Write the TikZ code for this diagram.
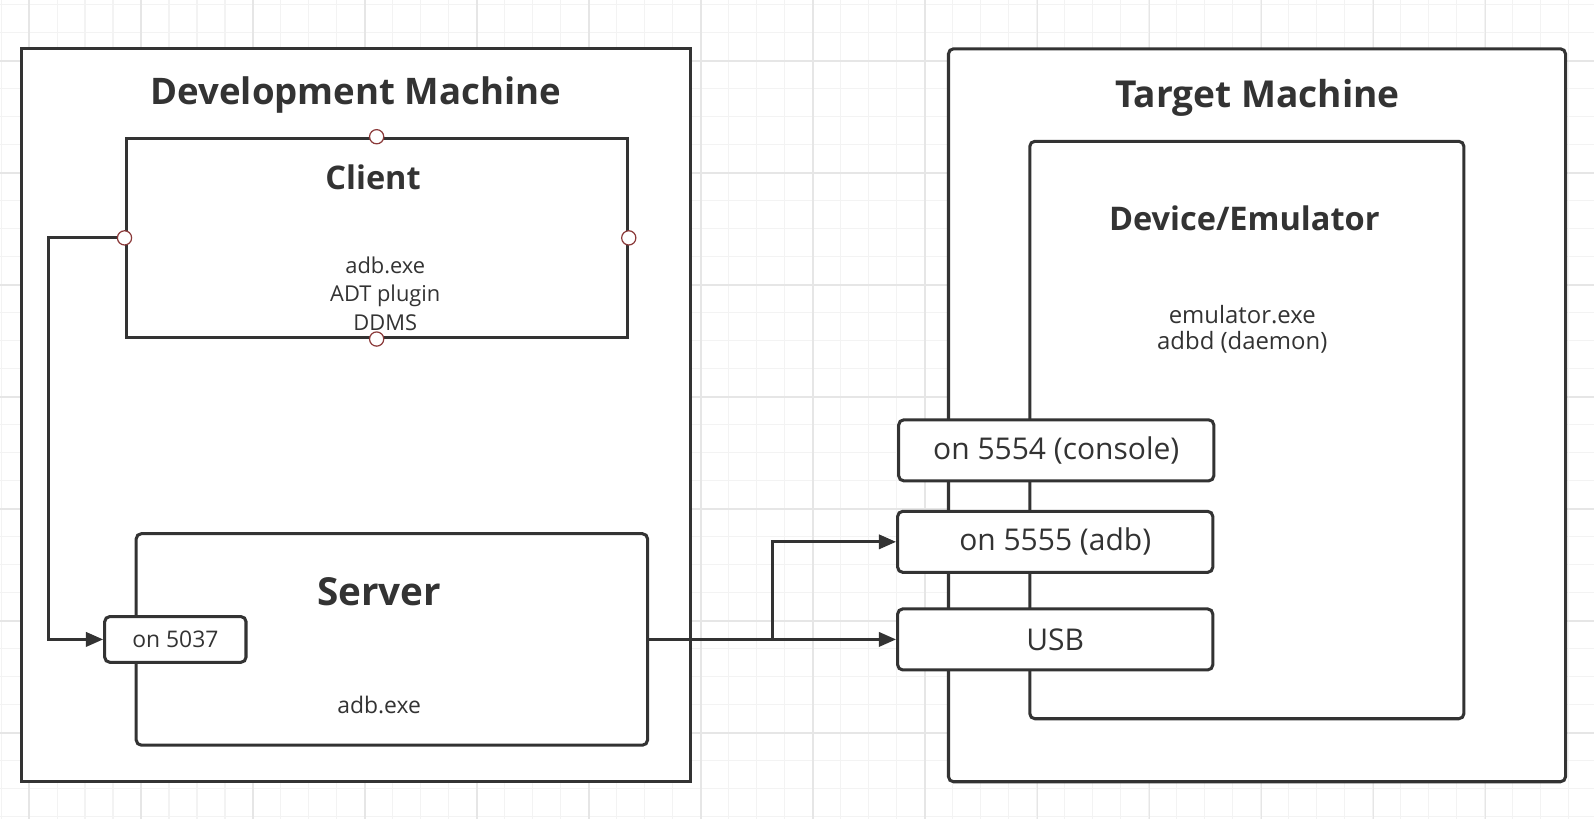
\documentclass[tikz,border=0pt]{standalone}
\usepackage{fontspec}
\setmainfont{Open Sans}
\usetikzlibrary{arrows.meta,positioning}
\definecolor{ink}{HTML}{333333}
\definecolor{pinred}{HTML}{8B3A3A}
\definecolor{gridminor}{HTML}{F3F3F3}
\definecolor{gridmajor}{HTML}{E6E6E6}

\begin{document}
\begin{tikzpicture}[x=1pt,y=1pt,
    box/.style={draw=ink,line width=3pt,fill=white,inner sep=0pt},
    rbox/.style={box,rounded corners=5pt},
    title/.style={text=ink,font=\fontsize{36}{42}\selectfont\bfseries},
    info/.style={text=ink,font=\fontsize{22.5}{28}\selectfont,align=center},
    port/.style={rbox,text=ink,font=\fontsize{29.5}{34}\selectfont},
    pin/.style={draw=pinred,fill=white,line width=1.2pt},
    link/.style={draw=ink,line width=3pt,-{Triangle[length=17pt,width=14pt]}}]
                \useasboundingbox (0,0) rectangle (1568,-806);
                \fill [white] (0,0) rectangle (1568,-806);
                \foreach \gx in {1,28.54,...,1568}
                    \draw [gridminor,line width=1pt] (\gx,0) -- (\gx,-806);
                \foreach \gy in {-4.9,-32.44,...,-806}
                    \draw [gridminor,line width=1pt] (0,\gy) -- (1568,\gy);
                \foreach \gx in {28.5,138.7,...,1568}
                    \draw [gridmajor,line width=1.4pt] (\gx,0) -- (\gx,-806);
                \foreach \gy in {-60,-170.2,...,-806}
                    \draw [gridmajor,line width=1.4pt] (0,\gy) -- (1568,\gy);
                \node [box,minimum width=658,minimum height=721] (dev) at (350,-408.5) {};
                \node [title] (devtitle) at (350,-93) {Development Machine};
                \node [box,minimum width=493,minimum height=196] (client) at (370.5,-234) {};
                \node [title,font=\fontsize{32}{38}\selectfont\bfseries] (clienttitle) at (367,-174) {Client};
                \node [info,font=\fontsize{21.5}{28}\selectfont] (clientinfo) at (379,-289) {adb.exe\\ADT plugin\\DDMS};
                \node [rbox,minimum width=503,minimum height=208] (server) at (385.5,-629) {};
                \node [title,font=\fontsize{38}{44}\selectfont\bfseries] (servertitle) at (373,-582) {Server};
                \node [info] (serverinfo) at (373,-693) {adb.exe};
                \node [rbox,minimum width=139,minimum height=45,text=ink,font=\fontsize{22.5}{26}\selectfont] (p5037) at (172.5,-629) {on 5037};
                \node [rbox,minimum width=607,minimum height=721] (target) at (1236.5,-408.5) {};
                \node [title,font=\fontsize{36.5}{42}\selectfont\bfseries] (targettitle) at (1237,-96) {Target Machine};
                \node [rbox,minimum width=427,minimum height=568] (device) at (1226.5,-423) {};
                \node [title,font=\fontsize{32}{38}\selectfont\bfseries] (devicetitle) at (1224,-215) {Device/Emulator};
                \node [info,font=\fontsize{23.5}{26}\selectfont] (deviceinfo) at (1222,-324) {emulator.exe\\adbd (daemon)};
                \node [port,minimum width=310,minimum height=60] (p5554) at (1039,-443) {on 5554 (console)};
                \node [port,minimum width=310,minimum height=60] (p5555) at (1038,-533) {on 5555 (adb)};
                \node [port,minimum width=310,minimum height=60] (usb) at (1038,-629) {USB};
                \coordinate (split) at (760,-629);
                \draw [link] (client.west) -- ++(-75,0) |- (p5037.west);
                \draw [link] (server.east) -- (split) |- (p5555.west);
                \draw [link] (server.east) -- (usb.west);
                \draw [pin] (client.north) circle (7);
                \draw [pin] (client.south) circle (7);
                \draw [pin] (client.west) circle (7);
                \draw [pin] (client.east) circle (7);
\end{tikzpicture}
\end{document}
